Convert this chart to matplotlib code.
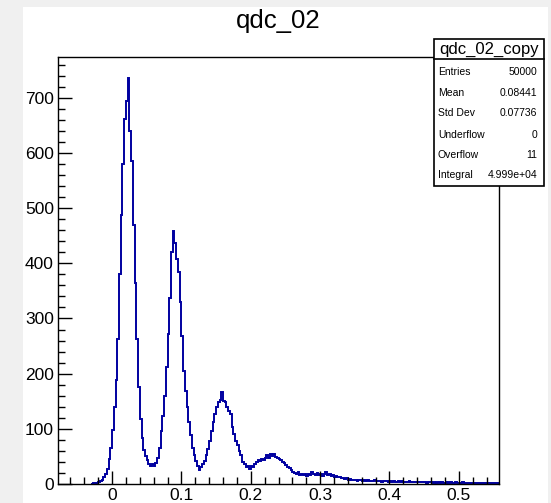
import numpy as np
import matplotlib
matplotlib.use('Agg')
import matplotlib.pyplot as plt
from matplotlib.patches import Rectangle
from matplotlib.ticker import MultipleLocator

plt.rcParams['font.family'] = ['Liberation Sans', 'DejaVu Sans']

# histogram: first bin edge, bin width, bin contents
bin_start = -0.03
bin_width = 0.0025
counts = [
    0, 1, 1, 2, 4, 5, 8, 12, 19, 28, 45, 66, 98, 140, 188, 262, 380, 488, 580, 662,
    695, 736, 640, 585, 470, 365, 262, 175, 118, 84, 62, 50, 44, 37, 33, 36, 32, 38, 48, 66,
    96, 124, 160, 212, 272, 338, 420, 458, 436, 408, 385, 330, 268, 205, 168, 140, 112, 88, 66, 52,
    42, 33, 25, 31, 36, 42, 52, 63, 78, 96, 112, 126, 140, 148, 153, 166, 151, 148, 140, 132,
    126, 104, 90, 78, 70, 60, 52, 40, 36, 30, 33, 28, 32, 30, 36, 40, 43, 41, 46, 44,
    48, 52, 47, 55, 50, 54, 49, 48, 45, 44, 40, 38, 34, 31, 29, 25, 22, 20, 18, 21,
    17, 19, 16, 18, 15, 19, 17, 21, 18, 16, 20, 17, 19, 15, 18, 21, 17, 19, 15, 16,
    13, 14, 12, 13, 10, 11, 9, 10, 8, 9, 7, 8, 7, 6, 8, 7, 6, 7, 5, 7,
    6, 6, 5, 7, 6, 5, 6, 4, 6, 5, 5, 4, 6, 4, 5, 4, 4, 5, 3, 5,
    4, 4, 3, 5, 4, 3, 4, 3, 4, 3, 4, 3, 3, 2, 4, 3, 3, 2, 3, 2,
    4, 2, 3, 2, 2, 3, 2, 3, 1, 2, 3, 2, 2, 1, 3, 2, 2, 1, 2, 2,
    1, 2, 1, 2, 1, 1, 2, 1, 2, 1, 1, 1, 2, 1, 1,
]

hist_title = 'qdc_02'
stats_title = 'qdc_02_copy'
stats_names = ['Entries', 'Mean', 'Std Dev', 'Underflow', 'Overflow', 'Integral']
stats_values = ['50000', '0.08441', '0.07736', '0', '11', '4.999e+04']

x_range = (-0.078, 0.558)
y_range = (0, 774)

W, H = 551, 503
fig = plt.figure(figsize=(W / 100, H / 100), dpi=100, facecolor='#f0f0f0')

# white canvas area
fig.patches.append(Rectangle((23 / W, 0), (548 - 23) / W, 1 - 7 / H,
                             transform=fig.transFigure, facecolor='white',
                             edgecolor='none', zorder=-10))

ax = fig.add_axes([58 / W, 19 / H, (499 - 58) / W, (484 - 57) / H])
ax.set_zorder(1)
ax.set_facecolor('white')

edges = bin_start + bin_width * np.arange(len(counts) + 1)
ax.stairs(counts, edges, color='#0000a0', linewidth=1.4)

ax.set_xlim(*x_range)
ax.set_ylim(*y_range)

ax.xaxis.set_major_locator(MultipleLocator(0.1))
ax.xaxis.set_minor_locator(MultipleLocator(0.02))
ax.yaxis.set_major_locator(MultipleLocator(100))
ax.yaxis.set_minor_locator(MultipleLocator(20))
ax.xaxis.set_major_formatter(lambda v, p: f'{v:g}' if abs(v) > 1e-9 else '0')

ax.tick_params(which='both', direction='in', top=False, right=False,
               width=1.0, labelsize=12.5, colors='black')
ax.tick_params(axis='x', which='major', length=9.5, pad=3)
ax.tick_params(axis='x', which='minor', length=4.7)
ax.tick_params(axis='y', which='major', length=9.8, pad=3)
ax.tick_params(axis='y', which='minor', length=4.9)

for s in ax.spines.values():
    s.set_linewidth(1.0)
    s.set_color('black')

fig.text(278 / W, 1 - 21 / H, hist_title, ha='center', va='center', fontsize=18.5)

# stats box
bx0, bx1, by0, by1, bysep = 434, 544, 39, 186, 59
fig.patches.append(Rectangle((bx0 / W, 1 - by1 / H), (bx1 - bx0) / W, (by1 - by0) / H,
                             transform=fig.transFigure, facecolor='white',
                             edgecolor='black', linewidth=1.2, zorder=5))
fig.add_artist(plt.Line2D([bx0 / W, bx1 / W], [1 - bysep / H, 1 - bysep / H],
                          transform=fig.transFigure, color='black', linewidth=1.2, zorder=6))
fig.text((bx0 + bx1) / 2 / W, 1 - 49.5 / H, stats_title, ha='center', va='center',
         fontsize=12, zorder=7)
row_y = [72, 92.5, 113.5, 135, 155, 175]
for name, val, ry in zip(stats_names, stats_values, row_y):
    fig.text(438 / W, 1 - ry / H, name, ha='left', va='center', fontsize=7.5, zorder=7)
    fig.text(537 / W, 1 - ry / H, val, ha='right', va='center', fontsize=7.5, zorder=7)

fig.savefig('out.png', dpi=100, facecolor=fig.get_facecolor())
